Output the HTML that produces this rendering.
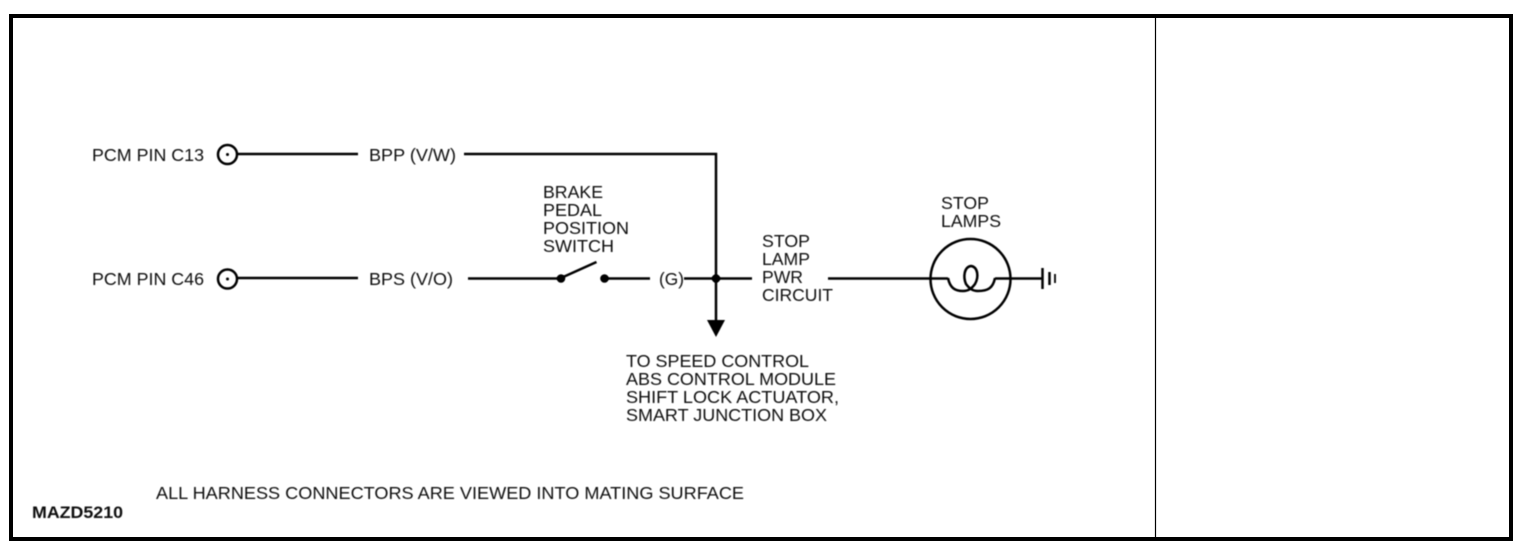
<!DOCTYPE html>
<html>
<head>
<meta charset="utf-8">
<style>
html,body{margin:0;padding:0;background:#fff;width:1526px;height:550px;overflow:hidden}
svg{display:block}
text{font-family:"Liberation Sans",sans-serif;font-size:17.5px;fill:#111}
</style>
</head>
<body>
<svg width="1526" height="550" viewBox="0 0 1526 550" xmlns="http://www.w3.org/2000/svg">
<defs><filter id="b" x="-5%" y="-30%" width="110%" height="160%"><feGaussianBlur stdDeviation="0.4"/></filter></defs>
<rect width="1526" height="550" fill="#fff"/>
<rect x="11" y="16" width="1500" height="523" fill="none" stroke="#000" stroke-width="4"/>
<line x1="1155.5" y1="16" x2="1155.5" y2="539" stroke="#000" stroke-width="1.2"/>

<g fill="none" stroke="#000" stroke-width="2.5" filter="url(#b)">
  <circle cx="227.5" cy="154.5" r="9.5"/>
  <circle cx="227.5" cy="279" r="9.5"/>
  <line x1="237" y1="154" x2="358" y2="154"/>
  <polyline points="464,154 716,154 716,323"/>
  <line x1="237" y1="278" x2="358" y2="278"/>
  <line x1="468" y1="278.500" x2="561" y2="278.500"/>
  <line x1="561" y1="278" x2="596.500" y2="262"/>
  <line x1="604" y1="278.500" x2="650" y2="278.500"/>
  <line x1="684" y1="278.500" x2="752" y2="278.500"/>
  <line x1="828" y1="278.500" x2="948" y2="278.500"/>
  <line x1="995" y1="278.500" x2="1042" y2="278.500"/>
  <circle cx="970.500" cy="279" r="40"/>
  <path d="M948,278 C950,288 955,291 963,291 C969,291 972,288 975,284 C979,277 978,267 971,266 C964,267 963,277 966,284 C969,288 972,291 978,291 C988,291 993,288 995,278"/>
  <line x1="1042.500" y1="268" x2="1042.500" y2="289"/>
  <line x1="1049.500" y1="272" x2="1049.500" y2="285"/>
  <line x1="1055" y1="274" x2="1055" y2="283" stroke-width="1.8"/>
</g>
<g fill="#000" filter="url(#b)">
  <circle cx="227.500" cy="154.500" r="1.500"/>
  <circle cx="227.500" cy="279" r="1.500"/>
  <circle cx="561" cy="278.500" r="4.300"/>
  <circle cx="604.500" cy="278.500" r="4.300"/>
  <circle cx="716" cy="278.500" r="4.300"/>
  <polygon points="707,320 725,320 716,337"/>
</g>

<g filter="url(#b)">
  <text x="92" y="161" textLength="112" lengthAdjust="spacingAndGlyphs">PCM PIN C13</text>
  <text x="92" y="285" textLength="112" lengthAdjust="spacingAndGlyphs">PCM PIN C46</text>
  <text x="369" y="161" textLength="87" lengthAdjust="spacingAndGlyphs">BPP (V/W)</text>
  <text x="369" y="285" textLength="84" lengthAdjust="spacingAndGlyphs">BPS (V/O)</text>
  <text x="543" y="198" textLength="60" lengthAdjust="spacingAndGlyphs">BRAKE</text>
  <text x="543" y="216" textLength="59" lengthAdjust="spacingAndGlyphs">PEDAL</text>
  <text x="543" y="234" textLength="86" lengthAdjust="spacingAndGlyphs">POSITION</text>
  <text x="543" y="252" textLength="71" lengthAdjust="spacingAndGlyphs">SWITCH</text>
  <text x="659" y="285" textLength="25" lengthAdjust="spacingAndGlyphs">(G)</text>
  <text x="762" y="247" textLength="48" lengthAdjust="spacingAndGlyphs">STOP</text>
  <text x="762" y="265" textLength="48" lengthAdjust="spacingAndGlyphs">LAMP</text>
  <text x="762" y="283" textLength="41" lengthAdjust="spacingAndGlyphs">PWR</text>
  <text x="762" y="301" textLength="71" lengthAdjust="spacingAndGlyphs">CIRCUIT</text>
  <text x="941" y="209" textLength="48" lengthAdjust="spacingAndGlyphs">STOP</text>
  <text x="941" y="227" textLength="60" lengthAdjust="spacingAndGlyphs">LAMPS</text>
  <text x="626" y="367" textLength="183" lengthAdjust="spacingAndGlyphs">TO SPEED CONTROL</text>
  <text x="626" y="385" textLength="210" lengthAdjust="spacingAndGlyphs">ABS CONTROL MODULE</text>
  <text x="626" y="403" textLength="213" lengthAdjust="spacingAndGlyphs">SHIFT LOCK ACTUATOR,</text>
  <text x="626" y="421" textLength="201" lengthAdjust="spacingAndGlyphs">SMART JUNCTION BOX</text>
  <text x="156" y="499" textLength="588" lengthAdjust="spacingAndGlyphs">ALL HARNESS CONNECTORS ARE VIEWED INTO MATING SURFACE</text>
  <text x="32" y="518" textLength="91" lengthAdjust="spacingAndGlyphs" style="font-weight:bold;font-size:16.500px">MAZD5210</text>
</g>
</svg>
</body>
</html>
